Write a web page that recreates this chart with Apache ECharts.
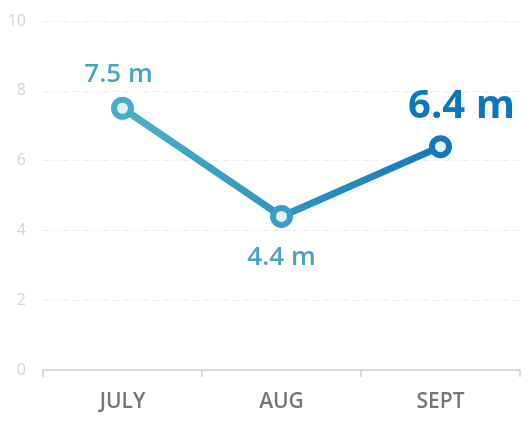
<!DOCTYPE html>
<html>
<head>
<meta charset="utf-8">
<script src="https://cdn.jsdelivr.net/npm/echarts@6/dist/echarts.min.js"></script>
<style>
    html, body { margin: 0; padding: 0; background: #fff; }
    #chart { width: 530px; height: 423px; }
</style>
</head>
<body>
<div id="chart"></div>
<script>
const months = ['JULY', 'AUG', 'SEPT'];
const distance = [7.5, 4.4, 6.4];
const pointColors = ['#48adc8', '#35a0c8', '#0e79bd'];

const chart = echarts.init(document.getElementById('chart'));

const data = distance.map(function (v, i) {
    const last = i === distance.length - 1;
    return {
        value: v,
        itemStyle: {borderColor: pointColors[i]},
        label: {
            position: i === 1 ? 'bottom' : 'top',
            distance: i === 1 ? 17 : (last ? 9 : 9),
            offset: last ? [21, 0] : (i === 0 ? [-4, 0] : [0, 0]),
            color: last ? '#0a78bd' : '#45a6c6',
            fontSize: last ? 40 : 26,
            fontWeight: last ? 'bold' : 600,
        },
    };
});

const option = {
    animation: false,
    grid: {left: 43, right: 10, top: 21, bottom: 53},
    xAxis: {
        type: 'category',
        data: months,
        boundaryGap: true,
        axisLine: {lineStyle: {color: '#cfcfcf', width: 1.5}},
        axisTick: {show: true, length: 7, lineStyle: {color: '#cfcfcf', width: 1.5}},
        axisLabel: {
            color: '#777',
            fontSize: 21,
            fontFamily: 'Open Sans',
            fontWeight: 600,
            margin: 22,
        },
    },
    yAxis: {
        type: 'value',
        min: 0,
        max: 10,
        interval: 2,
        axisLine: {show: false},
        axisTick: {show: false},
        axisLabel: {color: '#d4d4d4', fontSize: 16, fontFamily: 'Open Sans', margin: 17},
        splitLine: {lineStyle: {color: '#eeeeee', type: [6, 4]}},
    },
    series: [{
        type: 'line',
        data: data,
        symbol: 'circle',
        symbolSize: 17,
        lineStyle: {
            width: 7,
            color: new echarts.graphic.LinearGradient(0, 0, 1, 0, [
                {offset: 0, color: '#4cb1c8'},
                {offset: 1, color: '#1179bd'},
            ]),
        },
        itemStyle: {color: '#e6eff5', borderWidth: 6},
        label: {
            show: true,
            fontFamily: 'Open Sans',
            formatter: function (p) { return p.value + ' m'; },
        },
    }],
};
chart.setOption(option);
</script>
</body>
</html>
